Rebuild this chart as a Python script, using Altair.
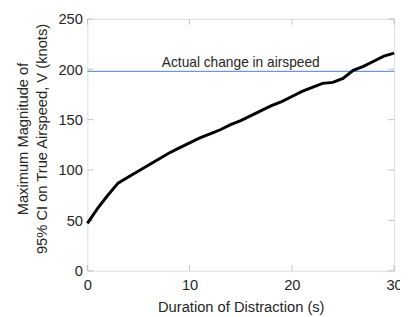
import altair as alt
import pandas as pd

# Data
duration_s = [0, 1, 2, 3, 4, 5, 6, 7, 8, 9, 10, 11, 12, 13, 14, 15, 16, 17, 18, 19,
              20, 21, 22, 23, 24, 25, 26, 27, 28, 29, 30]
max_ci_knots = [47, 62, 75, 87, 93, 99, 105, 111, 117, 122, 127, 132, 136, 140, 145,
                149, 154, 159, 164, 168, 173, 178, 182, 186, 187, 191, 199, 203, 208,
                213, 216]
actual_change = 198
annotation_text = "Actual change in airspeed"
annotation_x = 15
x_ticks = [0, 10, 20, 30]
y_ticks = [0, 50, 100, 150, 200, 250]

FONT = "Liberation Sans"
W, H = 313, 257
TXT = "#262626"
BOX = "#aaaaaa"

df = pd.DataFrame({"t": duration_s, "v": max_ci_knots})

xscale = alt.Scale(domain=[0, 30], nice=False)
yscale = alt.Scale(domain=[0, 250], nice=False)

xaxis = alt.Axis(values=x_ticks, title="Duration of Distraction (s)", grid=False,
                 ticks=False, domain=False, labelFont=FONT, labelFontSize=15,
                 labelColor=TXT, labelPadding=7, titleFont=FONT,
                 titleFontSize=15, titleFontWeight="normal", titleColor=TXT,
                 titlePadding=8, labelFlush=False, labelOverlap=False)
yaxis = alt.Axis(values=y_ticks, title=["Maximum Magnitude of", "95% CI on True Airspeed, V (knots)"],
                 grid=False, ticks=False, domain=False, labelFont=FONT, labelFontSize=15,
                 labelColor=TXT, labelPadding=5, titleFont=FONT, titleFontSize=15,
                 titleFontWeight="normal", titleColor=TXT, titleX=-58, titleY=122,
                 titleBaseline="bottom", titleLineHeight=19, labelFlush=False,
                 labelOverlap=False)

line = alt.Chart(df).mark_line(color="black", strokeWidth=3).encode(
    x=alt.X("t:Q", scale=xscale, axis=xaxis),
    y=alt.Y("v:Q", scale=yscale, axis=yaxis),
)

hline = alt.Chart(pd.DataFrame({"v": [actual_change]})).mark_rule(
    color="#4a7ebb", strokeWidth=1).encode(y=alt.Y("v:Q", scale=yscale))

label = alt.Chart(pd.DataFrame({"t": [annotation_x], "v": [actual_change],
                                "s": [annotation_text]})).mark_text(
    font=FONT, fontSize=14, color=TXT, baseline="alphabetic", dy=-4
).encode(x=alt.X("t:Q", scale=xscale), y=alt.Y("v:Q", scale=yscale), text="s:N")

xt = pd.DataFrame({"t": x_ticks})
yt = pd.DataFrame({"v": y_ticks})
tick_color = BOX
xt_bottom = alt.Chart(xt).mark_tick(orient="vertical", size=6, thickness=1,
                                    color=tick_color, yOffset=-3).encode(
    x=alt.X("t:Q", scale=xscale), y=alt.datum(0, scale=yscale))
xt_top = alt.Chart(xt).mark_tick(orient="vertical", size=6, thickness=1,
                                 color=tick_color, yOffset=3).encode(
    x=alt.X("t:Q", scale=xscale), y=alt.datum(250, scale=yscale))
yt_left = alt.Chart(yt).mark_tick(orient="horizontal", size=6, thickness=1,
                                  color=tick_color, xOffset=3).encode(
    y=alt.Y("v:Q", scale=yscale), x=alt.datum(0, scale=xscale))
yt_right = alt.Chart(yt).mark_tick(orient="horizontal", size=6, thickness=1,
                                   color=tick_color, xOffset=-3).encode(
    y=alt.Y("v:Q", scale=yscale), x=alt.datum(30, scale=xscale))

chart = alt.layer(xt_bottom, xt_top, yt_left, yt_right, hline, label, line).properties(
    width=W, height=H,
    autosize=alt.AutoSizeParams(type="none"),
    padding={"left": 81, "top": 8, "right": 6, "bottom": 44},
).configure_view(stroke=BOX, strokeWidth=1.2).configure(background="white")

chart.save("out.html", embed_options={"renderer": "svg", "actions": False})
